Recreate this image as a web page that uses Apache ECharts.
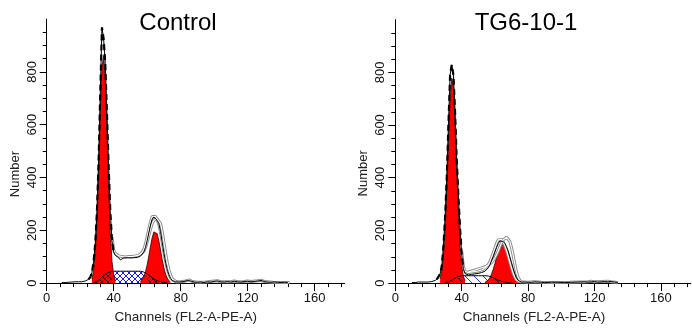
<!DOCTYPE html>
<html><head><meta charset="utf-8">
<script src="https://cdn.jsdelivr.net/npm/echarts@6/dist/echarts.min.js"></script>
<style>html,body{margin:0;padding:0;background:#fff}#c{width:692px;height:329px}</style>
</head><body><div id="c"></div>
<script>
// ---------- labels / ticks ----------
const panelTitles = ['Control', 'TG6-10-1'];
const xAxisName = 'Channels (FL2-A-PE-A)';
const yAxisName = 'Number';
const channelTicks = [0, 40, 80, 120, 160];
const channelMinorTicks = [8,16,24,32,48,56,64,72,88,96,104,112,128,136,144,152,168,176];
const numberTicks = [0, 200, 400, 600, 800];
const numberMinorTicks = [50,100,150,250,300,350,450,500,550,650,700,750,850,900,950];

// ---------- Control ----------
const ctrlDataStart = 9;
const ctrlData = [2,3,2,4,3,3,4,3,5,4,5,6,5,7,8,10,
  14,22,40,80,150,270,460,720,968,925,830,640,440,270,160,118,
  105,100,96,88,92,95,90,96,93,95,92,96,94,97,99,102,108,118,135,160,
  190,220,242,250,245,238,225,195,155,115,80,52,32,18,10,7,5,6,4,5];
const ctrlDataTail = [[82,6],[84,10],[86,8],[88,4],[90,3],[92,4],[94,2],[96,5],[98,4],[100,7],[102,8],[104,5],[106,4],[108,6],[110,4],[112,7],[114,5],[116,4],[118,6],[120,7],[122,5],[124,6],[126,8],[128,10],[130,6],[132,4],[134,3],[136,4],[138,3],[140,2],[142,3],[144,2]];
const ctrlGrayAStart = 39;
const ctrlGrayA = [175,125,112,106,103,100,101,100,99,100,101,100,101,102,103,104,106,110,116,128,148,175,205,232,252,258,252,240,222,192,155,118,84,56,35,20,12,8,6,5,4,4];
const ctrlGrayATail = [[83,8],[85,12],[87,6],[90,3],[95,4],[100,8],[102,9],[104,5],[110,5],[112,8],[114,5],[118,6],[120,8],[122,6],[126,9],[128,11],[130,6],[135,3],[140,2],[145,2]];
const ctrlGrayBStart = 56;
const ctrlGrayB = [108,112,120,135,155,180,205,225,238,242,243,240,225,195,155,115,78,50,30,17,10,6,4];
const ctrlG1Start = 27;
const ctrlG1 = [16,47,117,248,438,653,818,862,763,568,356,187,82,31,10];
const ctrlG2Start = 56;
const ctrlG2 = [6,12,24,43,69,103,140,172,194,200,187,160,125,89,58,34,19,9,4];
const ctrlSStart = 28;
const ctrlS = [2,4,7,11,16,22,28,33,38,41,43,44,
  45,45,45,45,45,45,45,45,45,45,45,45,45,45,45,45,45,
  44,42,39,35,30,25,20,16,12,9,7,5,3,2,1,0];
const ctrlSUnderRed = [[28, 39], [60, 72]];
const ctrlDashRange = [25, 40];

// ---------- TG6-10-1 ----------
const tgDataStart = 10;
const tgData = [2,3,2,3,4,3,4,3,4,5,4,6,6,8,10,
  14,20,35,65,140,250,400,600,790,828,790,650,470,330,210,110,
  55,36,31,31,32,33,34,35,36,37,38,40,42,45,50,58,70,85,100,118,
  135,150,160,163,158,150,138,122,100,78,56,36,20,10,6,4,3,4,3,3];
const tgDataTail = [[82,3],[84,5],[86,4],[88,3],[90,2],[94,3],[98,3],[102,2],[106,3],[110,4],[114,5],[116,4],[118,5],[120,6],[122,4],[124,5],[126,6],[128,5],[130,6],[132,4],[134,2]];
const tgGrayAStart = 40;
const tgGrayA = [120,62,45,40,40,41,42,43,44,45,46,48,50,53,57,62,70,82,98,115,132,150,164,170,166,156,142,124,102,80,58,38,22,12,7,5];
const tgGrayATail = [[80,3],[84,5],[88,3],[95,2],[105,3],[116,5],[118,7],[120,5],[124,6],[128,7],[130,5],[134,2]];
const tgGrayBStart = 44;
const tgGrayB = [42,44,46,48,50,52,54,56,58,60,62,65,68,72,78,86,96,108,122,138,152,164,171,174,170,158,135,105,72,42,22,10,5];
const tgG1Start = 27;
const tgG1 = [17,46,105,211,366,545,701,778,744,614,437,268,142,65,26,9];
const tgG2Start = 54;
const tgG2 = [3,7,12,21,35,53,74,98,121,139,149,149,139,121,98,74,53,35,21,12,7,3];
const tgSStart = 30;
const tgS = [1,3,5,8,11,15,19,22,25,27,
  28,28,28,28,28,28,28,28,28,28,28,28,28,28,28,28,
  27,25,23,20,17,14,11,9,7,5,4,3,2,1,0];
const tgSUnderRed = [[30, 40], [58, 70]];
const tgDashRange = [25, 41];

// ---------- helpers ----------
const FONT = 'Liberation Sans, Arial, sans-serif';
function seq(start, vals) { return vals.map((v, i) => [start + i, v]); }
function within(pairs, r) { return pairs.filter(p => p[0] >= r[0] && p[0] <= r[1]); }
function hatch(size, bg, color, both, alpha) {
  const c = document.createElement('canvas');
  c.width = size; c.height = size;
  const g = c.getContext('2d');
  if (bg) { g.fillStyle = bg; g.fillRect(0, 0, size, size); }
  g.globalAlpha = alpha || 1;
  g.strokeStyle = color; g.lineWidth = 1;
  g.beginPath();
  g.moveTo(-1, -1); g.lineTo(size + 1, size + 1);
  if (both) { g.moveTo(size + 1, -1); g.lineTo(-1, size + 1); }
  g.stroke();
  return c;
}
const patCtrl = { image: hatch(6, '#ffffff', '#1a1aff', true), repeat: 'repeat' };
const patCtrlOver = { image: hatch(6, null, '#000000', true, 0.75), repeat: 'repeat' };
const patTg = { image: hatch(9, '#ffffff', '#2a2aff', false), repeat: 'repeat' };
const patTgOver = { image: hatch(9, null, '#000000', false, 0.75), repeat: 'repeat' };

function panelSeries(ax, d) {
  const base = { type: 'line', xAxisIndex: ax, yAxisIndex: ax, showSymbol: false, symbol: 'none', animation: false, silent: true };
  const data = seq(d.dataStart, d.data).concat(d.dataTail);
  const S = seq(d.sStart, d.s);
  const out = [];
  out.push(Object.assign({}, base, { data: S, z: 1, lineStyle: { width: 0, opacity: 0 }, areaStyle: { color: d.pat, opacity: 1 } }));
  out.push(Object.assign({}, base, { data: seq(d.g1Start, d.g1), z: 2, lineStyle: { width: 0.8, color: '#330000' }, areaStyle: { color: '#ff0000', opacity: 1 } }));
  out.push(Object.assign({}, base, { data: seq(d.g2Start, d.g2), z: 2, lineStyle: { width: 0.8, color: '#330000' }, areaStyle: { color: '#ff0000', opacity: 1 } }));
  d.sUnder.forEach(r => {
    out.push(Object.assign({}, base, { data: within(S, r), z: 3, lineStyle: { width: 0, opacity: 0 }, areaStyle: { color: d.patOver, opacity: 1 } }));
  });
  out.push(Object.assign({}, base, { data: S, z: 4, lineStyle: { width: 1, color: '#000' } }));
  [d.grayA, d.grayB].forEach(gd => {
    out.push(Object.assign({}, base, { data: gd, z: 5, lineStyle: { width: 3, color: '#8c8c8c' } }));
    out.push(Object.assign({}, base, { data: gd, z: 6, lineStyle: { width: 1.1, color: '#ffffff' } }));
  });
  out.push(Object.assign({}, base, { data: data, z: 8, lineStyle: { width: 1, color: '#000' } }));
  out.push(Object.assign({}, base, { data: within(data, d.dash), z: 9, lineStyle: { width: 2.2, color: '#000', type: [6, 4] } }));
  return out;
}

const ctrl = { dataStart: ctrlDataStart, data: ctrlData, dataTail: ctrlDataTail,
  sStart: ctrlSStart, s: ctrlS, g1Start: ctrlG1Start, g1: ctrlG1, g2Start: ctrlG2Start, g2: ctrlG2,
  grayA: seq(ctrlGrayAStart, ctrlGrayA).concat(ctrlGrayATail), grayB: seq(ctrlGrayBStart, ctrlGrayB),
  sUnder: ctrlSUnderRed, dash: ctrlDashRange, pat: patCtrl, patOver: patCtrlOver };
const tg = { dataStart: tgDataStart, data: tgData, dataTail: tgDataTail,
  sStart: tgSStart, s: tgS, g1Start: tgG1Start, g1: tgG1, g2Start: tgG2Start, g2: tgG2,
  grayA: seq(tgGrayAStart, tgGrayA).concat(tgGrayATail), grayB: seq(tgGrayBStart, tgGrayB),
  sUnder: tgSUnderRed, dash: tgDashRange, pat: patTg, patOver: patTgOver };

function xMajor(grid, namePad) {
  return { type: 'value', gridIndex: grid, min: 0, max: 178, position: 'bottom',
    axisLine: { show: true, onZero: false, lineStyle: { color: '#000', width: 1 } },
    axisTick: { show: true, length: 8, customValues: channelTicks, lineStyle: { color: '#000' } },
    axisLabel: { show: true, customValues: channelTicks, margin: 9, fontSize: 13, color: '#111', fontFamily: FONT },
    splitLine: { show: false },
    name: xAxisName, nameLocation: 'middle', nameGap: 22,
    nameTextStyle: { fontSize: 13.5, color: '#222', fontFamily: FONT, padding: namePad } };
}
function xMinor(grid) {
  return { type: 'value', gridIndex: grid, min: 0, max: 178, position: 'bottom',
    axisLine: { show: false }, axisLabel: { show: false }, splitLine: { show: false },
    axisTick: { show: true, length: 4, customValues: channelMinorTicks, lineStyle: { color: '#000' } } };
}
function yMajor(grid, namePad) {
  return { type: 'value', gridIndex: grid, min: 0, max: 1000, position: 'left',
    axisLine: { show: true, onZero: false, lineStyle: { color: '#000', width: 1 } },
    axisTick: { show: true, length: 7, customValues: numberTicks, lineStyle: { color: '#000' } },
    axisLabel: { show: true, customValues: numberTicks, rotate: 90, margin: 8, fontSize: 13, color: '#111', fontFamily: FONT },
    splitLine: { show: false },
    name: yAxisName, nameLocation: 'middle', nameGap: 25,
    nameTextStyle: { fontSize: 13, color: '#222', fontFamily: FONT, padding: namePad } };
}
function yMinor(grid) {
  return { type: 'value', gridIndex: grid, min: 0, max: 1000, position: 'left',
    axisLine: { show: false }, axisLabel: { show: false }, splitLine: { show: false },
    axisTick: { show: true, length: 4, customValues: numberMinorTicks, lineStyle: { color: '#000' } } };
}

const chart = echarts.init(document.getElementById('c'), null, { renderer: 'canvas' });
chart.setOption({
  animation: false,
  backgroundColor: '#ffffff',
  title: [
    { text: panelTitles[0], left: 173, top: 6, textAlign: 'center', textStyle: { fontSize: 24, fontWeight: 'normal', color: '#000', fontFamily: FONT } },
    { text: panelTitles[1], left: 521, top: 6, textAlign: 'center', textStyle: { fontSize: 24, fontWeight: 'normal', color: '#000', fontFamily: FONT } }
  ],
  grid: [
    { left: 46.7, top: 19, width: 298, height: 266.7, containLabel: false },
    { left: 395.3, top: 19.6, width: 295.5, height: 265.4, containLabel: false }
  ],
  xAxis: [xMajor(0, [0, 20, 0, 0]), xMinor(0), xMajor(1, [0, 18, 0, 0]), xMinor(1)],
  yAxis: [yMajor(0, [0, 46, 0, 0]), yMinor(0), yMajor(1, [0, 44, 0, 0]), yMinor(1)],
  series: panelSeries(0, ctrl).concat(panelSeries(2, tg))
});
</script>
</body></html>
